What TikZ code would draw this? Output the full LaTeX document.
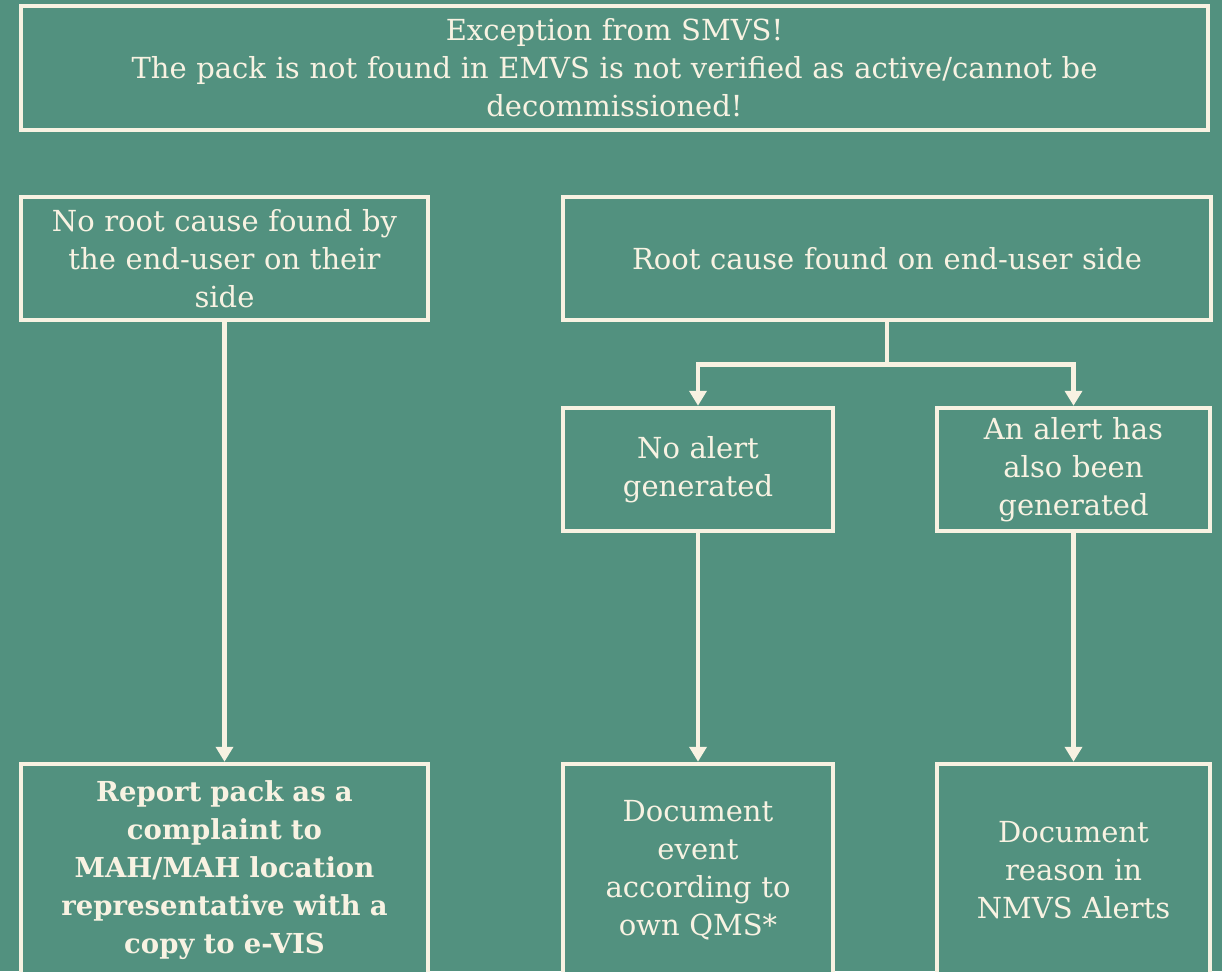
\documentclass[tikz,border=0pt]{standalone}
\usepackage{fontspec}
\setmainfont{DejaVu Serif}
\usepackage{tikz}
\usetikzlibrary{arrows.meta,positioning,calc}
\definecolor{SeaGreen}{HTML}{52917F}
\definecolor{Cream}{HTML}{F8F2E2}
\tikzset{
  box/.style={draw=Cream,line width=4.5pt,fill=SeaGreen,align=center,text=Cream,
              inner sep=0pt,font=\fontsize{29}{38}\selectfont},
  boldbox/.style={box,font=\fontsize{27.5}{38}\selectfont\bfseries},
  flow/.style={-{Triangle[width=17pt,length=15pt]},line width=4.5pt,draw=Cream}
}
\begin{document}
\begin{tikzpicture}[x=1pt,y=-1pt]
  \useasboundingbox (0,0) rectangle (1222,971);
  \fill[SeaGreen] (0,0) rectangle (1222,971);
  \clip (0,0) rectangle (1222,971);

  \node[box,minimum width=1187pt,minimum height=124pt,text width=1180pt] (exception) at (614.5,68)
    {Exception from SMVS!\\The pack is not found in EMVS is not verified as active/cannot be\\decommissioned!};
  \node[box,minimum width=407pt,minimum height=123pt,text width=405pt] (noroot) at (224.5,258.5)
    {No root cause found by\\the end-user on their\\side};
  \node[box,minimum width=648pt,minimum height=123pt,text width=640pt] (root) at (887,258.5)
    {Root cause found on end-user side};
  \node[box,minimum width=270pt,minimum height=123pt,text width=268pt] (noalert) at (698,469.5)
    {No alert\\generated};
  \node[box,minimum width=273pt,minimum height=123pt,text width=271pt] (alert) at (1073.5,469.5)
    {An alert has\\also been\\generated};
  \node[boldbox,minimum width=407pt,minimum height=212pt,text width=405pt] (report) at (224.5,870)
    {Report pack as a\\complaint to\\MAH/MAH location\\representative with a\\copy to e-VIS};
  \node[box,minimum width=270pt,minimum height=212pt,text width=268pt] (docevent) at (698,870)
    {Document\\event\\according to\\own QMS*};
  \node[box,minimum width=273pt,minimum height=212pt,text width=271pt] (docreason) at (1073.5,870)
    {Document\\reason in\\NMVS Alerts};

  \draw[flow] (noroot) -- (report);
  \draw[flow] (root.south) -- ++(0,42) -| (noalert.north);
  \draw[flow] (root.south) -- ++(0,42) -| (alert.north);
  \draw[flow] (noalert) -- (docevent);
  \draw[flow] (alert) -- (docreason);
\end{tikzpicture}
\end{document}
